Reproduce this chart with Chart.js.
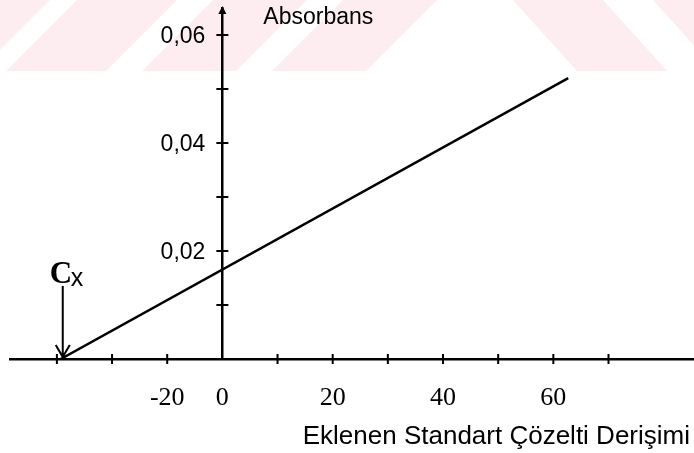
<!DOCTYPE html>
<html>
<head>
<meta charset="utf-8">
<script src="https://cdn.jsdelivr.net/npm/chart.js@4.4.1/dist/chart.umd.min.js"></script>
<style>
  html, body { margin: 0; padding: 0; background: #fff; }
  #wrap { width: 694px; height: 453px; }
</style>
</head>
<body>
<div id="wrap"><canvas id="stdAddition" width="694" height="453"></canvas></div>
<script>
// standart ekleme doğrusu; x eksenini kestiği nokta Cx
const lineX = [-29.3, 62.7];
const lineY = [0, 0.052];

const xTickValues = [-30, -20, -10, 0, 10, 20, 30, 40, 50, 60, 70];
const xTickLabels = ['', '', '-20', '0', '', '20', '', '40', '', '60', ''];
const yTickValues = [0.01, 0.02, 0.03, 0.04, 0.05, 0.06];
const yTickLabels = ['', '0,02', '', '0,04', '', '0,06'];

const yTitle = 'Absorbans';
const xTitle = 'Eklenen Standart Çözelti Derişimi';
const interceptLabel = 'C';
const interceptSub = 'x';

// axes cross at the origin, so drop the label overflow padding
const zeroPad = scale => {
  scale.paddingTop = 0;
  scale.paddingBottom = 0;
  scale.paddingLeft = 0;
  scale.paddingRight = 0;
};

const axisDecor = {
  id: 'axisDecor',
  beforeDraw(chart) {
    const ctx = chart.ctx;
    ctx.save();
    ctx.fillStyle = '#fff';
    ctx.fillRect(0, 0, chart.width, chart.height);
    // faint stripes across the top of the sheet
    ctx.fillStyle = '#fdedf0';
    const band = 71;
    [[-100, 50], [77, 177], [213, 307], [343, 437]].forEach(([a, b]) => {
      ctx.beginPath();
      ctx.moveTo(a, 0);
      ctx.lineTo(b, 0);
      ctx.lineTo(b - band, band);
      ctx.lineTo(a - band, band);
      ctx.closePath();
      ctx.fill();
    });
    [[513, 603], [653, 760]].forEach(([a, b]) => {
      ctx.beginPath();
      ctx.moveTo(a, 0);
      ctx.lineTo(b, 0);
      ctx.lineTo(b + 64, band);
      ctx.lineTo(a + 64, band);
      ctx.closePath();
      ctx.fill();
    });
    ctx.restore();
  },
  afterDraw(chart) {
    const {ctx, scales: {x, y}} = chart;
    const x0 = x.getPixelForValue(0);
    const y0 = y.getPixelForValue(0);
    ctx.save();
    ctx.strokeStyle = '#000';
    ctx.fillStyle = '#000';
    ctx.lineWidth = 2;

    // tick marks crossing the axis lines
    ctx.beginPath();
    x.ticks.forEach(t => {
      if (t.value === 0) return;
      const px = x.getPixelForValue(t.value);
      ctx.moveTo(px, y0 - 5);
      ctx.lineTo(px, y0 + 5);
    });
    y.ticks.forEach(t => {
      const py = y.getPixelForValue(t.value);
      ctx.moveTo(x0 - 6, py);
      ctx.lineTo(x0 + 6, py);
    });
    ctx.stroke();

    // y tick labels sit well left of the axis line
    ctx.font = '23px "Liberation Sans"';
    ctx.textAlign = 'right';
    ctx.textBaseline = 'middle';
    y.ticks.forEach(t => {
      const label = yTickLabels[yTickValues.indexOf(t.value)];
      if (label) ctx.fillText(label, x0 - 17, y.getPixelForValue(t.value) + 2);
    });

    // arrow head on top of the y axis
    const top = chart.chartArea.top;
    ctx.beginPath();
    ctx.moveTo(x0, top - 2);
    ctx.lineTo(x0 - 4, top + 6);
    ctx.lineTo(x0 + 4, top + 6);
    ctx.closePath();
    ctx.fill();

    // Cx marker with an arrow down to the intercept
    const ax = x.getPixelForValue(lineX[0]) + 2;
    ctx.beginPath();
    ctx.moveTo(ax, 286);
    ctx.lineTo(ax, y0 - 2);
    ctx.moveTo(ax - 7, y0 - 14);
    ctx.lineTo(ax, y0 - 2);
    ctx.lineTo(ax + 7, y0 - 14);
    ctx.stroke();

    ctx.textBaseline = 'alphabetic';
    ctx.textAlign = 'left';
    ctx.font = 'bold 31px "Liberation Serif"';
    ctx.fillText(interceptLabel, ax - 13, 283);
    ctx.font = '25px "Liberation Sans"';
    ctx.fillText(interceptSub, ax + 8, 286);

    // axis titles
    ctx.font = '23px "Liberation Sans"';
    ctx.textBaseline = 'middle';
    ctx.fillText(yTitle, x0 + 41, 18);
    ctx.textAlign = 'right';
    ctx.font = '26px "Liberation Sans"';
    ctx.fillText(xTitle, 690, 437);
    ctx.restore();
  }
};

new Chart(document.getElementById('stdAddition'), {
  type: 'scatter',
  data: {
    datasets: [{
      data: lineX.map((v, i) => ({x: v, y: lineY[i]})),
      showLine: true,
      borderColor: '#000',
      borderWidth: 2.5,
      pointRadius: 0,
      fill: false
    }]
  },
  options: {
    responsive: false,
    animation: false,
    devicePixelRatio: 1,
    layout: { padding: { left: 10, right: 0, top: 8, bottom: 94 } },
    plugins: {
      legend: { display: false },
      tooltip: { enabled: false }
    },
    scales: {
      x: {
        type: 'linear',
        position: { y: 0 },
        min: -38.5,
        max: 85.5,
        afterBuildTicks: s => { s.ticks = xTickValues.map(v => ({value: v})); },
        afterFit: zeroPad,
        grid: { display: false, drawTicks: false },
        border: { display: true, color: '#000', width: 2.5 },
        ticks: {
          autoSkip: false,
          maxRotation: 0,
          padding: 24,
          color: '#000',
          font: { family: 'Liberation Serif', size: 26 },
          callback: v => xTickLabels[xTickValues.indexOf(v)]
        }
      },
      y: {
        type: 'linear',
        position: { x: 0 },
        min: 0,
        max: 0.065,
        afterBuildTicks: s => { s.ticks = yTickValues.map(v => ({value: v})); },
        afterFit: zeroPad,
        grid: { display: false, drawTicks: false },
        border: { display: true, color: '#000', width: 2.5 },
        ticks: { display: false }
      }
    }
  },
  plugins: [axisDecor]
});
</script>
</body>
</html>
